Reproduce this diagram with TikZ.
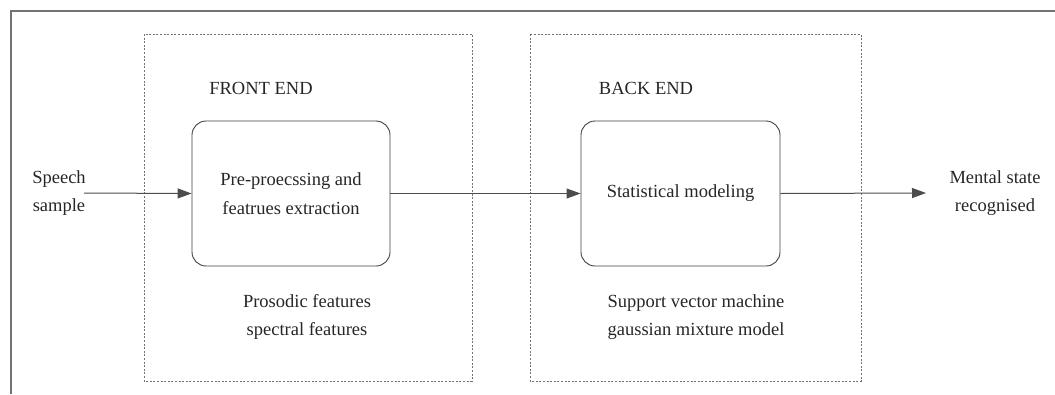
\documentclass[tikz,border=0pt]{standalone}
\usepackage{fontspec}
\setmainfont{Liberation Serif}
\usetikzlibrary{arrows.meta}
\begin{document}
\begin{tikzpicture}[x=1pt,y=-1pt,
  frame/.style={draw=black!55,line width=1.5pt},
  dotbox/.style={draw=black!55,line width=0.9pt,dash pattern=on 2pt off 1.6pt},
  procbox/.style={draw=black!75,line width=0.9pt,rounded corners=14pt},
  txt/.style={font=\fontsize{18.5}{28.5}\selectfont,text=black!85,align=center,inner sep=0pt},
  flow/.style={draw=black!70,line width=1pt,-{Triangle[length=14pt,width=10pt]}}]
\useasboundingbox (0,0) rectangle (1055,394);
\draw[frame] (11,394) -- (11,11) -- (1055,11);
\draw[dotbox] (144,34) rectangle (472,381);
\draw[dotbox] (530,34) rectangle (861,381);
\node[procbox,minimum width=198pt,minimum height=145pt] (fe) at (291,193.5) {};
\node[procbox,minimum width=199pt,minimum height=145pt] (be) at (680.5,193.5) {};
\node[txt] at (fe.center) {Pre-proecssing and\\featrues extraction};
\node[txt] at (be.center) {Statistical modeling};
\node[txt] (fet) at (261,88) {FRONT END};
\node[txt] (bet) at (646,88) {BACK END};
\node[txt] (fel) at (307,317) {Prosodic features\\spectral features};
\node[txt] (bel) at (696,317) {Support vector machine\\gaussian mixture model};
\node[txt] (in) at (59,193) {Speech\\sample};
\node[txt] (out) at (995,193) {Mental state\\recognised};
\coordinate (inE) at (84,193);
\coordinate (outW) at (926,193);
\draw[flow] (inE) -- (fe.west);
\draw[flow] (fe.east) -- (be.west);
\draw[flow] (be.east) -- (outW);
\end{tikzpicture}
\end{document}
